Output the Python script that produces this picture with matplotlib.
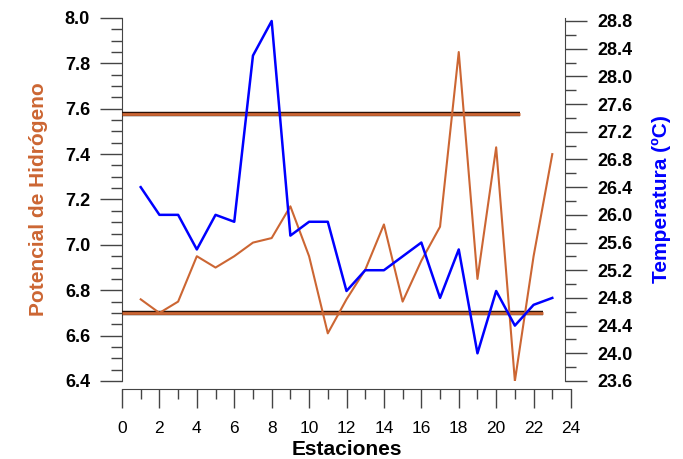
import numpy as np
import matplotlib
matplotlib.use('Agg')
import matplotlib.pyplot as plt
from matplotlib.ticker import MultipleLocator

plt.rcParams['font.family'] = ['Liberation Sans', 'DejaVu Sans']

# data
estaciones = list(range(1, 24))
ph = [6.76, 6.70, 6.75, 6.95, 6.90, 6.95, 7.01, 7.03, 7.17, 6.95, 6.61, 6.76,
      6.89, 7.09, 6.75, 6.93, 7.08, 7.85, 6.85, 7.43, 6.40, 6.95, 7.40]
temp = [26.4, 26.0, 26.0, 25.5, 26.0, 25.9, 28.3, 28.8, 25.7, 25.9, 25.9, 24.9,
        25.2, 25.2, 25.4, 25.6, 24.8, 25.5, 24.0, 24.9, 24.4, 24.7, 24.8]
limite_sup = 7.575
limite_inf = 6.70
lim_sup_x = [0, 21.3]
lim_inf_x = [0, 22.5]

orange = '#CC6633'
W, H = 683, 459
fig = plt.figure(figsize=(W / 100, H / 100), dpi=100)
ax = fig.add_axes([122 / W, 1 - 381 / H, (571 - 122) / W, (381 - 18) / H])
ax2 = ax.twinx()

# limit bars
for xs, y in [(lim_sup_x, limite_sup), (lim_inf_x, limite_inf)]:
    ax.plot(xs, [y, y], color='#2a1208', lw=3.2, solid_capstyle='butt', zorder=3)
    ax.plot(xs, [y, y], color=orange, lw=2.0, solid_capstyle='butt', zorder=4)

ax.plot(estaciones, ph, color=orange, lw=1.5, zorder=5)
ax2.plot(estaciones, temp, color='blue', lw=1.8, zorder=5)

ax.set_xlim(0, 24)
ax.set_ylim(6.4, 8.0)
k = 5.2 / 361
ax2.set_ylim(23.6 + k, 28.8 + 3 * k)

for a in (ax, ax2):
    a.spines['top'].set_visible(False)
ax.spines['right'].set_visible(False)
ax2.spines['left'].set_visible(False)
ax2.spines['bottom'].set_visible(False)
ax2.spines['right'].set_position(('axes', (565 - 122) / (571 - 122)))
ax.spines['bottom'].set_position(('outward', 6))
for a in (ax, ax2):
    for s in a.spines.values():
        s.set_color('#444444')

ax.xaxis.set_major_locator(MultipleLocator(2))
ax.xaxis.set_minor_locator(MultipleLocator(1))
ax.yaxis.set_minor_locator(MultipleLocator(0.05))
ax2.yaxis.set_minor_locator(MultipleLocator(0.2))
ax.set_yticks(np.arange(6.4, 8.01, 0.2))
ax2.set_yticks(np.arange(23.6, 28.81, 0.4))
ax.yaxis.set_major_formatter(plt.FormatStrFormatter('%.1f'))
ax2.yaxis.set_major_formatter(plt.FormatStrFormatter('%.1f'))

ax.tick_params(axis='x', which='major', length=14, width=1, color='#444444',
               labelsize=12.5, pad=9)
ax.tick_params(axis='x', which='minor', length=7, width=1, color='#444444')
for a in (ax, ax2):
    a.tick_params(axis='y', which='major', length=16, width=1, color='#444444',
                  labelsize=13, pad=7)
    a.tick_params(axis='y', which='minor', length=8, width=1, color='#444444')
    for lbl in a.get_yticklabels():
        lbl.set_fontweight('bold')

ax.set_xlabel('Estaciones', fontsize=15, fontweight='bold', labelpad=3)
ax.set_ylabel('Potencial de Hidrógeno', fontsize=15, fontweight='bold',
              color=orange, labelpad=12)
ax2.set_ylabel('Temperatura (ºC)', fontsize=15, fontweight='bold',
               color='blue', labelpad=14)

fig.savefig('out.png', dpi=100)
